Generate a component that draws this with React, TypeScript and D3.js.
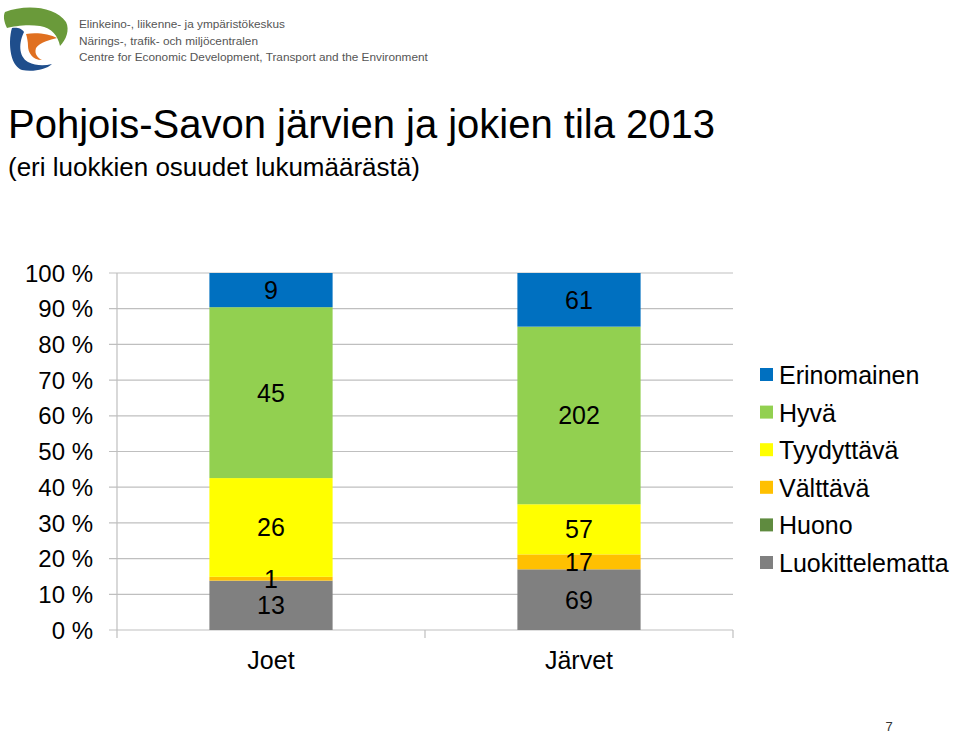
import { useEffect, useRef } from "react";
import * as d3 from "d3";

const categories = ["Joet", "Järvet"];
const classes = ["Luokittelematta", "Huono", "Välttävä", "Tyydyttävä", "Hyvä", "Erinomainen"];
const luokittelematta = [13, 69];
const huono = [0, 0];
const valttava = [1, 17];
const tyydyttava = [26, 57];
const hyva = [45, 202];
const erinomainen = [9, 61];
const colors = ["#808080", "#5F8B3F", "#FFC000", "#FFFF00", "#92D050", "#0070C0"];
const yTicks = [0, 0.1, 0.2, 0.3, 0.4, 0.5, 0.6, 0.7, 0.8, 0.9, 1];

const FONT = "'Liberation Sans', Arial, sans-serif";

const App = () => {
	const svgRef = useRef<SVGSVGElement>(null);

	useEffect(() => {
		const svg = d3.select(svgRef.current);
		svg.selectAll("*").remove();

		const series = [luokittelematta, huono, valttava, tyydyttava, hyva, erinomainen];
		const rows = categories.map((c, i) => {
			const r: any = { cat: c };
			classes.forEach((k, j) => (r[k] = series[j][i]));
			return r;
		});
		const stacked = d3.stack().keys(classes).offset(d3.stackOffsetExpand)(rows);

		const left = 117, right = 733, top = 273, bottom = 630;
		const x = d3.scaleBand().domain(categories).range([left, right]).paddingInner(0).paddingOuter(0);
		const y = d3.scaleLinear().domain([0, 1]).range([bottom, top]);
		const barW = x.bandwidth() * 0.4;

		// logo
		const logo = svg.append("g");
		logo.append("path")
			.attr("d", "M5,12 C25,4 55,6 66,22 C70,30 66,40 60,46 C58,36 52,28 40,26 C28,24 14,26 7,28 C4,22 3,16 5,12 Z")
			.attr("fill", "#6A9A3A");
		logo.append("path")
			.attr("d", "M12,28 C16,27 22,28 24,32 C19,42 18,56 28,62 C36,66 44,66 52,64 C46,70 32,72 22,70 C12,66 10,52 10,42 C10,36 11,31 12,28 Z")
			.attr("fill", "#1F4E8C");
		logo.append("path")
			.attr("d", "M26,34 C36,32 50,34 57,38 C50,40 40,42 36,48 C34,54 38,58 42,60 C32,60 28,52 28,46 C28,42 27,37 26,34 Z")
			.attr("fill", "#E07020");
		const logoText = [
			"Elinkeino-, liikenne- ja ympäristökeskus",
			"Närings-, trafik- och miljöcentralen",
			"Centre for Economic Development, Transport and the Environment",
		];
		logo.selectAll("text.lt")
			.data(logoText)
			.join("text")
			.attr("x", 79)
			.attr("y", (_, i) => 28 + i * 16.5)
			.attr("font-family", FONT)
			.attr("font-size", 11.8)
			.attr("fill", "#555")
			.text((d) => d);

		// titles
		svg.append("text")
			.attr("x", 8).attr("y", 138)
			.attr("font-family", FONT).attr("font-size", 40)
			.text("Pohjois-Savon järvien ja jokien tila 2013");
		svg.append("text")
			.attr("x", 8).attr("y", 176)
			.attr("font-family", FONT).attr("font-size", 26)
			.text("(eri luokkien osuudet lukumäärästä)");

		// grid
		svg.append("g")
			.selectAll("line")
			.data(yTicks)
			.join("line")
			.attr("x1", left - 8).attr("x2", right)
			.attr("y1", (d) => y(d)).attr("y2", (d) => y(d))
			.attr("stroke", "#BFBFBF").attr("stroke-width", 1.2);
		svg.append("line")
			.attr("x1", left).attr("x2", left).attr("y1", top).attr("y2", bottom)
			.attr("stroke", "#BFBFBF").attr("stroke-width", 1.2);
		svg.append("g")
			.selectAll("line")
			.data([left, ...categories.map((c) => (x(c) as number) + x.bandwidth())])
			.join("line")
			.attr("x1", (d) => d).attr("x2", (d) => d)
			.attr("y1", bottom).attr("y2", bottom + 8)
			.attr("stroke", "#BFBFBF").attr("stroke-width", 1.2);

		svg.append("g")
			.selectAll("text")
			.data(yTicks)
			.join("text")
			.attr("x", 93)
			.attr("y", (d) => y(d))
			.attr("dy", "0.36em")
			.attr("text-anchor", "end")
			.attr("font-family", FONT).attr("font-size", 24)
			.text((d) => `${Math.round(d * 100)} %`);

		// bars
		stacked.forEach((s, j) => {
			const g = svg.append("g");
			g.selectAll("rect")
				.data(s)
				.join("rect")
				.attr("x", (d) => (x(d.data.cat as string) as number) + (x.bandwidth() - barW) / 2)
				.attr("width", barW)
				.attr("y", (d) => y(d[1]))
				.attr("height", (d) => y(d[0]) - y(d[1]))
				.attr("fill", colors[j]);
		});
		stacked.forEach((s) => {
			svg.append("g")
				.selectAll("text")
				.data(s.filter((d) => (d.data as any)[s.key] > 0))
				.join("text")
				.attr("x", (d) => (x(d.data.cat as string) as number) + x.bandwidth() / 2)
				.attr("y", (d) => (y(d[0]) + y(d[1])) / 2)
				.attr("dy", "0.36em")
				.attr("text-anchor", "middle")
				.attr("font-family", FONT).attr("font-size", 25)
				.text((d) => (d.data as any)[s.key]);
		});

		svg.append("g")
			.selectAll("text")
			.data(categories)
			.join("text")
			.attr("x", (d) => (x(d) as number) + x.bandwidth() / 2)
			.attr("y", 669)
			.attr("text-anchor", "middle")
			.attr("font-family", FONT).attr("font-size", 25)
			.text((d) => d);

		// legend
		const legendOrder = [...classes].reverse();
		const lg = svg.append("g")
			.selectAll("g")
			.data(legendOrder)
			.join("g")
			.attr("transform", (_, i) => `translate(760,${375 + i * 37.6})`);
		lg.append("rect")
			.attr("x", 0).attr("y", -7).attr("width", 13).attr("height", 13)
			.attr("fill", (d) => colors[classes.indexOf(d)]);
		lg.append("text")
			.attr("x", 19).attr("y", 0).attr("dy", "0.36em")
			.attr("font-family", FONT).attr("font-size", 25)
			.text((d) => d);

		svg.append("text")
			.attr("x", 889).attr("y", 731)
			.attr("text-anchor", "middle")
			.attr("font-family", FONT).attr("font-size", 13).attr("fill", "#333")
			.text("7");
	}, []);

	return (
		<div style={{ position: "absolute", left: 0, top: 0, width: 960, height: 734, background: "#fff" }}>
			<svg ref={svgRef} width={960} height={734}></svg>
		</div>
	);
};

export default App;
